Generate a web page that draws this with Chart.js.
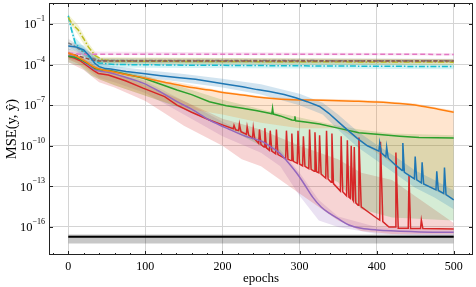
<!DOCTYPE html>
<html>
<head>
<meta charset="utf-8">
<script src="https://cdn.jsdelivr.net/npm/chart.js@4.4.1/dist/chart.umd.min.js"></script>
<style>
  html, body { margin: 0; padding: 0; background: #fff; }
  #wrap { width: 476px; height: 287px; }
</style>
</head>
<body>
<div id="wrap"><canvas id="chart" width="476" height="287"></canvas></div>
<script>
// ---- axis ticks ----
const epochTicks = [0, 100, 200, 300, 400, 500];
const mseTicks = [1e-16, 1e-13, 1e-10, 1e-7, 1e-4, 1e-1];

// ---- mean curves: [epoch, mse] ----
const blueMse = [[0,2.3e-3],[10,2e-3],[20,1.2e-3],[28,4e-4],[34,1.3e-4],[40,7e-5],[48,5e-5],[55,4.6e-5],[75,3e-5],[97,2.2e-5],[120,1.5e-5],[141,1.1e-5],[165,8e-6],[183,5.5e-6],[205,3.5e-6],[226,2.3e-6],[245,1.4e-6],[261,1e-6],[280,6e-7],[295,3.5e-7],[310,1.8e-7],[326,8e-8],[338,2.5e-8],[350,6e-9],[362,1.5e-9],[375,3.5e-10],[388,1e-10],[403,4e-11],[404,1.6e-10],[406,3e-11],[412,1.5e-11],[413,8e-11],[415,1.2e-11],[425,3.5e-12],[433,1.5e-12],[434,1.6e-10],[436,1.1e-12],[449,3.5e-13],[450,1.6e-11],[452,3e-13],[458,1.8e-13],[459,6e-12],[461,1.5e-13],[477,5.5e-14],[478,1.3e-12],[480,5e-14],[487,3e-14],[488,2.5e-12],[490,2.5e-14],[500,1e-14]];
const orangeMse = [[0,7e-4],[8,5e-4],[15,3e-4],[25,1.3e-4],[35,6e-5],[45,4e-5],[55,3.2e-5],[75,1.8e-5],[97,1.07e-5],[120,5.5e-6],[141,3.2e-6],[160,2e-6],[183,1.3e-6],[205,8e-7],[226,5.6e-7],[245,4e-7],[261,3.2e-7],[290,2.5e-7],[330,2.3e-7],[377,1.9e-7],[400,1.7e-7],[430,1.3e-7],[455,9e-8],[480,5e-8],[500,3e-8]];
const greenMse = [[0,4e-4],[8,3.5e-4],[15,2.5e-4],[25,1.2e-4],[35,5e-5],[45,4e-5],[55,3.4e-5],[75,1.9e-5],[97,1e-5],[120,3.5e-6],[141,1.3e-6],[160,6e-7],[183,1.8e-7],[205,9e-8],[226,5.9e-8],[245,3.8e-8],[261,2.5e-8],[264,2.3e-8],[265,6e-8],[266,2.2e-8],[275,1.6e-8],[290,8e-9],[293,7.5e-9],[294,1.5e-8],[295,7e-9],[310,5.5e-9],[326,4e-9],[350,2e-9],[377,9e-10],[400,7e-10],[430,5e-10],[455,4e-10],[500,3.7e-10]];
const redMse = [[0,4e-4],[8,3e-4],[15,2e-4],[26,7e-5],[33,3.5e-5],[39,2.2e-5],[52,1.7e-5],[75,6e-6],[97,1.8e-6],[125,4.3e-7],[141,1e-7],[160,3e-8],[183,8e-9],[200,3.5e-9],
  [214,1.8e-9],[215,3.2e-9],[217,1.5e-9],[221,1.3e-9],[222,4e-9],[224,1.1e-9],[231,7e-10],[232,2.5e-9],[234,6e-10],
  [239,3.5e-10],[240,2e-9],[242,3e-10],[247,1.5e-10],[248,1.6e-9],[250,1.2e-10],[254,8e-11],[255,2e-9],[257,7e-11],
  [261,4.5e-11],[262,1.3e-9],[264,4e-11],[269,2.5e-11],[270,1.6e-9],[272,2.2e-11],[282,1.1e-11],[283,1.3e-9],[285,1e-11],
  [289,8e-12],[290,8e-10],[292,7e-12],[297,5e-12],[298,1.3e-9],[300,4.5e-12],[304,3.2e-12],[305,5e-10],[307,3e-12],
  [312,2e-12],[313,1.6e-9],[315,1.8e-12],[319,1.3e-12],[320,1e-9],[322,1.2e-12],[325,1e-12],[326,6e-10],[328,8e-13],
  [334,4e-13],[335,1.3e-9],[337,3.5e-13],[341,2e-13],[342,8e-10],[344,1.6e-13],[353,4.5e-14],[354,5e-10],[356,4e-14],
  [361,2e-14],[362,2.5e-10],[364,1.6e-14],[366,1.3e-14],[367,1e-10],[369,1e-14],[370,8e-15],[371,8e-11],[373,6e-15],
  [376,4e-15],[377,4e-10],[380,3e-15],[399,5e-16],[404,3.2e-16],[405,2e-10],[408,2.5e-16],[416,1e-16],[424,1e-16],
  [425,3.2e-11],[428,8e-17],[441,7.9e-17],[442,6.3e-13],[444,7.7e-17],[457,7.6e-17],[458,3.2e-16],[460,7.6e-17],[500,7e-17]];
const purpleMse = [[0,4.5e-4],[8,3.8e-4],[15,2.5e-4],[25,1e-4],[35,4e-5],[45,3e-5],[55,2.4e-5],[75,1.1e-5],[97,4.2e-6],[120,9e-7],[141,1.8e-7],[160,5e-8],[183,8e-9],[209,1.6e-9],[230,5e-10],[252,2e-10],[263,8e-11],[274,3e-11],[285,6e-12],[296,1e-12],[306,1.5e-13],[317,1.6e-14],[328,3e-15],[339,1e-15],[352,3.5e-16],[364,1.4e-16],[380,8e-17],[400,6e-17],[450,4.5e-17],[500,4e-17]];
const pinkMse = [[0,7e-4],[15,5.8e-4],[500,5.6e-4]];
const oliveMse = [[0,3e-1],[5,1e-1],[13,3.5e-2],[20,8e-3],[26,2e-3],[35,4.5e-4],[45,2.2e-4],[60,1.8e-4],[150,1.7e-4],[300,1.6e-4],[500,1.5e-4]];
const cyanMse = [[0,4e-1],[4,4e-2],[9,4e-3],[15,1.5e-3],[22,7e-4],[30,2.5e-4],[40,1.3e-4],[60,1e-4],[150,9e-5],[300,8e-5],[500,7e-5]];
const grayMse = [[0,4e-3],[10,2e-3],[20,8e-4],[30,3e-4],[40,2e-4],[500,1.9e-4]];
const brownMse = [[0,7e-4],[15,4e-4],[30,2.2e-4],[40,1.8e-4],[500,1.8e-4]];
const blackMse = [[0,1.9e-17],[500,1.9e-17]];

// ---- spread bands: [epoch, low, high] ----
const blueBand = [[0,1.2e-3,4e-3],[10,1e-3,3.5e-3],[20,5e-4,2.5e-3],[30,1e-4,6e-4],[40,3.5e-5,1.4e-4],[55,2.5e-5,8e-5],[100,1.1e-5,4e-5],[150,5e-6,2e-5],[200,2e-6,9e-6],[250,6e-7,3.5e-6],[300,1e-7,7e-7],[330,2e-8,1.5e-7],[350,1.5e-9,2e-8],[375,8e-11,1.2e-9],[400,8e-12,1.2e-10],[425,8e-13,1.5e-11],[450,8e-14,1.5e-12],[475,1.5e-14,3e-13],[500,2e-15,5e-14]];
const orangeBand = [[0,2.5e-4,1e-3],[15,1e-4,4e-4],[30,2e-5,1.2e-4],[40,8e-6,6e-5],[60,3e-6,4e-5],[100,5e-7,1.3e-5],[150,6e-8,4e-6],[200,2e-8,1.1e-6],[250,5e-9,4.5e-7],[300,2e-9,3e-7],[350,2e-9,2.8e-7],[375,3e-10,2.5e-7],[400,3e-11,2.2e-7],[450,3e-13,1.3e-7],[500,1e-14,4e-8]];
const greenBand = [[0,1.5e-4,6e-4],[15,8e-5,4e-4],[30,1.5e-5,1.5e-4],[40,8e-6,7e-5],[60,3e-6,4.5e-5],[100,5e-7,1.5e-5],[150,5e-8,2e-6],[200,3e-9,2.5e-7],[250,1e-10,5e-8],[300,5e-12,1.2e-8],[350,2e-13,3e-9],[380,2e-15,1.5e-9],[420,5e-16,8e-10],[500,3e-16,6e-10]];
const redBand = [[0,1.5e-4,7e-4],[20,4e-5,2.5e-4],[40,5e-6,4e-5],[60,2e-6,2.5e-5],[100,2e-7,3e-6],[125,2.5e-8,8e-7],[150,3e-9,2e-7],[200,1e-10,1e-8],[225,1e-11,4e-9],[250,3e-12,1.5e-9],[300,3e-14,1e-10],[350,3e-16,1e-11],[380,5e-17,1e-12],[420,3e-17,3e-13],[500,3e-17,2e-16]];
const purpleBand = [[0,2.5e-4,7e-4],[20,8e-5,3.5e-4],[40,1e-5,5e-5],[60,5e-6,3.5e-5],[100,8e-7,6e-6],[150,2e-8,2e-7],[200,5e-10,6e-9],[250,3e-11,3e-10],[275,3e-12,5e-11],[300,2e-14,1e-12],[325,3e-16,1e-14],[350,1e-16,6e-16],[400,3e-17,1e-16],[500,2e-17,6e-17]];
const pinkBand = [[0,5e-4,9e-4],[500,4.6e-4,6.8e-4]];
const oliveBand = [[0,1.5e-1,5e-1],[13,1.5e-2,8e-2],[26,8e-4,4e-3],[40,1.2e-4,3.5e-4],[500,9e-5,2.4e-4]];
const cyanBand = [[0,2e-1,6e-1],[9,1.5e-3,1e-2],[22,3e-4,1.5e-3],[40,6e-5,2.5e-4],[500,4.5e-5,1.1e-4]];
const grayBand = [[0,2e-3,8e-3],[20,4e-4,1.5e-3],[40,1.3e-4,3e-4],[500,1.3e-4,2.7e-4]];
const brownBand = [[0,3e-4,1.5e-3],[20,1.3e-4,6e-4],[40,1.2e-4,2.8e-4],[500,1.2e-4,2.6e-4]];
const blackBand = [[0,6e-18,2.8e-17],[500,6e-18,2.8e-17]];

const SERIF = "'Liberation Serif', 'Times New Roman', serif";

function hexA(hex, a) {
  const n = parseInt(hex.slice(1), 16);
  return `rgba(${(n >> 16) & 255},${(n >> 8) & 255},${n & 255},${a})`;
}

const datasets = [];

// bands go underneath everything
function addBand(band, color, alpha) {
  datasets.push({
    data: band.map(([x, lo]) => ({ x, y: lo })),
    borderWidth: 0, pointRadius: 0, fill: false, order: 10
  });
  datasets.push({
    data: band.map(([x, , hi]) => ({ x, y: hi })),
    borderWidth: 0, pointRadius: 0, fill: '-1',
    backgroundColor: hexA(color, alpha), order: 10
  });
}

function addLine(series, color, opts) {
  datasets.push(Object.assign({
    data: series.map(([x, y]) => ({ x, y })),
    borderColor: color, borderWidth: 1.5, pointRadius: 0, fill: false, order: 1
  }, opts || {}));
}

addBand(blackBand, '#000000', 0.22);
addBand(pinkBand, '#e377c2', 0.2);
addBand(oliveBand, '#bcbd22', 0.2);
addBand(cyanBand, '#17becf', 0.2);
addBand(grayBand, '#7f7f7f', 0.2);
addBand(brownBand, '#8c564b', 0.2);
addBand(blueBand, '#1f77b4', 0.2);
addBand(orangeBand, '#ff7f0e', 0.2);
addBand(greenBand, '#2ca02c', 0.2);
addBand(redBand, '#d62728', 0.2);
addBand(purpleBand, '#9467bd', 0.2);

addLine(blueMse, '#1f77b4');
addLine(orangeMse, '#ff7f0e', { cubicInterpolationMode: 'monotone' });
addLine(greenMse, '#2ca02c');
addLine(purpleMse, '#9467bd', { cubicInterpolationMode: 'monotone' });
addLine(redMse, '#d62728');
addLine(pinkMse, '#e377c2', { borderDash: [5, 3] });
addLine(brownMse, '#8c564b', { borderDash: [4, 2] });
addLine(grayMse, '#7f7f7f', { borderDash: [4, 2, 1.5, 2] });
addLine(oliveMse, '#bcbd22', { borderDash: [6, 2, 1.5, 2] });
addLine(cyanMse, '#17becf', { borderDash: [6, 2, 1.5, 2] });
addLine(blackMse, '#000000', { borderWidth: 2, order: 0 });

// frame, inward ticks on all four sides and 10^n labels
const frameTicks = {
  id: 'frameTicks',
  afterDraw(chart) {
    const { ctx, chartArea: a, scales: { x, y } } = chart;
    ctx.save();
    ctx.strokeStyle = '#222';
    ctx.lineWidth = 1;
    ctx.strokeRect(a.left + 0.5, a.top + 0.5, a.right - a.left - 1, a.bottom - a.top - 1);
    ctx.beginPath();
    for (let v = -20; v <= 520; v += 20) {
      const px = Math.round(x.getPixelForValue(v)) + 0.5;
      if (px < a.left || px > a.right) continue;
      const len = epochTicks.includes(v) ? 4 : 2;
      ctx.moveTo(px, a.bottom); ctx.lineTo(px, a.bottom - len);
      ctx.moveTo(px, a.top); ctx.lineTo(px, a.top + len);
    }
    mseTicks.forEach(v => {
      const py = Math.round(y.getPixelForValue(v)) + 0.5;
      ctx.moveTo(a.left, py); ctx.lineTo(a.left + 4, py);
      ctx.moveTo(a.right, py); ctx.lineTo(a.right - 4, py);
    });
    ctx.stroke();

    ctx.fillStyle = '#000';
    ctx.textBaseline = 'middle';
    mseTicks.forEach(v => {
      const py = y.getPixelForValue(v);
      const exp = '\u2212' + Math.abs(Math.round(Math.log10(v)));
      ctx.font = `8px ${SERIF}`;
      const ew = ctx.measureText(exp).width;
      ctx.textAlign = 'left';
      const right = a.left - 4;
      ctx.fillText(exp, right - ew, py - 5);
      ctx.font = `12.5px ${SERIF}`;
      ctx.textAlign = 'right';
      ctx.fillText('10', right - ew, py + 1);
    });
    ctx.restore();
  }
};

new Chart(document.getElementById('chart'), {
  type: 'line',
  data: { datasets },
  options: {
    responsive: false,
    animation: false,
    devicePixelRatio: 1,
    layout: { padding: { top: 3, right: 3, left: 0, bottom: 0 } },
    plugins: { legend: { display: false }, tooltip: { enabled: false } },
    elements: { line: { tension: 0 } },
    scales: {
      x: {
        type: 'linear', min: -25, max: 525,
        afterBuildTicks: s => { s.ticks = epochTicks.map(v => ({ value: v })); },
        afterFit: s => { s.height = 32; },
        grid: { color: '#d4d4d4', lineWidth: 1, drawTicks: false },
        border: { display: false },
        ticks: { color: '#000', padding: 5, font: { family: SERIF, size: 12 } },
        title: { display: true, text: 'epochs', color: '#000', padding: { top: 0, bottom: 1 }, font: { family: SERIF, size: 13 } }
      },
      y: {
        type: 'logarithmic', min: 8.5e-19, max: 3.5,
        afterBuildTicks: s => { s.ticks = mseTicks.map(v => ({ value: v })); },
        afterFit: s => { s.width = 49; },
        grid: { color: '#d4d4d4', lineWidth: 1, drawTicks: false },
        border: { display: false },
        ticks: { display: false },
        title: { display: true, text: 'MSE(y, ŷ)', color: '#000', padding: { top: 3, bottom: 0 }, font: { family: SERIF, size: 14.5 } }
      }
    }
  },
  plugins: [frameTicks]
});
</script>
</body>
</html>
